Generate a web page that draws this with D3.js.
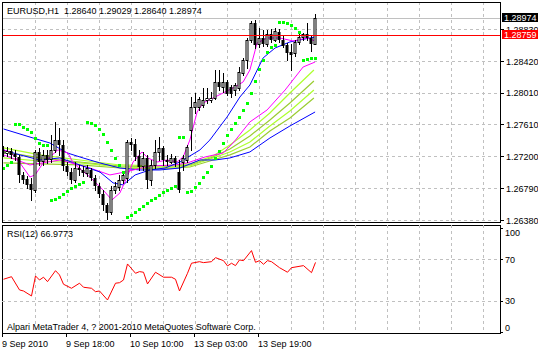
<!DOCTYPE html>
<html><head><meta charset="utf-8">
<script src="https://cdn.jsdelivr.net/npm/d3@7"></script>
<style>
body{margin:0;background:#fff;}
svg{display:block;}
text{font-family:"Liberation Sans",Arial,sans-serif;font-size:9px;fill:#000;}
</style>
</head><body><svg id="c" width="538" height="351"></svg>
<script>
// ---------- data ----------
const symbol = "EURUSD,H1";
const lastOHLC = [1.28640, 1.29029, 1.28640, 1.28974];
const opens  = [1.27279,1.27241,1.27266,1.27228,1.27189,1.26958,1.26907,1.26843,1.26765,1.27253,1.27137,1.27215,1.27163,1.27279,1.27407,1.27343,1.27073,1.26996,1.26894,1.27047,1.27022,1.26984,1.27022,1.26920,1.26817,1.26714,1.26573,1.26483,1.26765,1.26804,1.26894,1.26920,1.27381,1.27356,1.27202,1.27073,1.27176,1.26894,1.27086,1.27253,1.27305,1.27150,1.27124,1.27176,1.26996,1.27124,1.27150,1.27535,1.27830,1.27830,1.27856,1.27920,1.27920,1.27946,1.28151,1.28087,1.28151,1.28087,1.28048,1.28074,1.28266,1.28433,1.28690,1.28908,1.28638,1.28715,1.28638,1.28767,1.28690,1.28792,1.28690,1.28626,1.28536,1.28523,1.28664,1.28728,1.28767,1.28715,1.28640];
const highs  = [1.27330,1.27317,1.27305,1.27279,1.27215,1.26996,1.26945,1.26920,1.27279,1.27305,1.27279,1.27279,1.27471,1.27637,1.27561,1.27407,1.27124,1.27047,1.27124,1.27086,1.27073,1.27086,1.27047,1.26958,1.26856,1.26765,1.26599,1.26817,1.26868,1.26958,1.26984,1.27407,1.27432,1.27420,1.27279,1.27253,1.27215,1.27150,1.27407,1.27445,1.27330,1.27215,1.27228,1.27202,1.27150,1.27215,1.27343,1.27958,1.28010,1.27958,1.28074,1.28074,1.28022,1.28305,1.28305,1.28266,1.28177,1.28112,1.28138,1.28343,1.28459,1.28715,1.28934,1.28946,1.28843,1.28818,1.28818,1.28831,1.28843,1.28831,1.28741,1.28651,1.28638,1.28690,1.28767,1.28780,1.28908,1.28754,1.29029];
const lows   = [1.27202,1.27202,1.27176,1.27150,1.26868,1.26856,1.26791,1.26637,1.26740,1.27086,1.27086,1.27112,1.27124,1.27253,1.27215,1.27022,1.26958,1.26856,1.26868,1.26958,1.26945,1.26945,1.26894,1.26765,1.26676,1.26509,1.26393,1.26457,1.26727,1.26765,1.26856,1.26868,1.27279,1.27150,1.27022,1.27022,1.26791,1.26830,1.27047,1.27150,1.27086,1.27086,1.27112,1.27073,1.26740,1.27022,1.27124,1.27279,1.27754,1.27792,1.27830,1.27882,1.27894,1.27933,1.28048,1.28022,1.27984,1.27958,1.27984,1.28048,1.28241,1.28330,1.28664,1.28587,1.28600,1.28613,1.28613,1.28664,1.28677,1.28664,1.28600,1.28433,1.28305,1.28484,1.28638,1.28690,1.28690,1.28548,1.28640];
const closes = [1.27228,1.27266,1.27215,1.27189,1.26958,1.26894,1.26830,1.26765,1.27253,1.27124,1.27215,1.27150,1.27279,1.27407,1.27343,1.27073,1.26996,1.26894,1.27047,1.27022,1.26984,1.27047,1.26920,1.26817,1.26714,1.26573,1.26470,1.26765,1.26817,1.26894,1.26958,1.27381,1.27343,1.27189,1.27060,1.27176,1.26894,1.27086,1.27253,1.27305,1.27150,1.27124,1.27176,1.27112,1.26765,1.27176,1.27317,1.27830,1.27894,1.27933,1.27920,1.27946,1.27946,1.28151,1.28087,1.28151,1.27997,1.27997,1.28112,1.28279,1.28433,1.28690,1.28908,1.28626,1.28715,1.28638,1.28767,1.28690,1.28805,1.28690,1.28613,1.28523,1.28497,1.28664,1.28728,1.28767,1.28715,1.28638,1.28974];
const sar = [1.27047,1.27086,1.27124,1.27612,1.27612,1.27573,1.27548,1.27509,1.27432,1.27368,1.27343,1.27343,1.26637,1.26650,1.26676,1.26714,1.26753,1.26791,1.26817,1.26843,1.26868,1.27637,1.27625,1.27599,1.27548,1.27484,1.27381,1.27279,1.27176,1.27086,1.26996,1.26419,1.26444,1.26483,1.26522,1.26560,1.26599,1.26637,1.26663,1.26701,1.26740,1.26765,1.26791,1.26817,1.27445,1.27445,1.26740,1.26753,1.26804,1.26856,1.26932,1.26996,1.27073,1.27176,1.27266,1.27368,1.27471,1.27548,1.27625,1.27702,1.27792,1.27882,1.28010,1.28164,1.28318,1.28433,1.28536,1.28600,1.28625,1.28921,1.28921,1.28908,1.28882,1.28843,1.28792,1.28433,1.28446,1.28459,1.28459];
// moving averages read as [bar, price]
const maMagentaFast = [[0,1.27279],[1.6,1.27253],[3.6,1.27150],[6.6,1.26932],[7.9,1.26958],[9.9,1.27112],[13.6,1.27279],[16.1,1.27241],[17.4,1.27112],[21.6,1.26932],[24.9,1.26765],[27.1,1.26637],[29.1,1.26727],[30.9,1.26932],[32.4,1.27124],[34.6,1.27253],[36.1,1.27176],[38.4,1.27124],[40.9,1.27150],[43.4,1.27124],[44.9,1.27189],[46.6,1.27407],[48.4,1.27766],[49.9,1.27882],[52.4,1.27946],[54.9,1.28010],[57.4,1.28074],[59.9,1.28151],[61.6,1.28305],[63.4,1.28651],[65.9,1.28715],[69.1,1.28715],[72.4,1.28677],[75.9,1.28715],[77.9,1.28677]];
const maMagentaSlow = [[0,1.27215],[6.6,1.27086],[14.1,1.27150],[21.6,1.27047],[26.6,1.26958],[30.4,1.26996],[36.6,1.27073],[42.9,1.27086],[45.9,1.27112],[50.4,1.27189],[54.9,1.27240],[57.4,1.27368],[61.6,1.27638],[65.9,1.27792],[70.4,1.28048],[74.9,1.28343],[77.9,1.28407]];
const maBlueFast = [[0,1.27279],[4.1,1.27215],[9.1,1.27150],[14.1,1.27176],[19.1,1.27086],[24.1,1.26996],[27.4,1.26856],[29.9,1.26830],[32.9,1.26958],[36.6,1.27022],[40.4,1.27047],[44.1,1.27124],[49.1,1.27279],[51.6,1.27407],[55.9,1.27702],[59.1,1.27958],[61.6,1.28112],[64.9,1.28459],[67.9,1.28587],[71.6,1.28664],[74.1,1.28690],[77.9,1.28728]];
const maBlueSlow = [[0,1.27548],[7.4,1.27432],[11.6,1.27368],[15.9,1.27241],[19.9,1.27176],[24.1,1.27112],[29.1,1.27047],[34.1,1.27022],[39.1,1.27022],[44.1,1.27047],[49.1,1.27150],[52.9,1.27150],[56.6,1.27176],[61.6,1.27253],[66.6,1.27432],[71.6,1.27586],[77.9,1.27766]];
const greenBars = [0,9.1,19.1,29.1,39.1,46.6,52.4,56.6,61.6,66.6,71.6,77.6];
const maGreen1 = [1.27305,1.27215,1.27150,1.27086,1.27073,1.27099,1.27202,1.27343,1.27535,1.27753,1.28010,1.28305];
const maGreen2 = [1.27253,1.27176,1.27124,1.27073,1.27060,1.27086,1.27189,1.27292,1.27458,1.27663,1.27882,1.28164];
const maGreen3 = [1.27176,1.27137,1.27112,1.27060,1.27047,1.27073,1.27176,1.27253,1.27381,1.27586,1.27779,1.28048];
const maGreen4 = [1.27112,1.27099,1.27086,1.27047,1.27035,1.27060,1.27150,1.27215,1.27317,1.27522,1.27689,1.27946];
const rsiPts = [[0,50.7],[2,53.2],[4,40.4],[5,39.4],[7,34.6],[8,53.9],[9,50],[10,52.7],[11,48.4],[13,59],[14,54.9],[15,45.9],[17,42],[19,46.9],[20,43],[22,42],[23,38.7],[24,39.4],[26,30.7],[28,46.9],[29,47.4],[30,50],[31,65.5],[33,56.5],[34,58.1],[35,57.5],[36,46.2],[38,57.5],[40,52.7],[42,52.7],[43,50.7],[44,39.4],[46,56.5],[47,66.2],[49,67.7],[50,66.8],[52,67.7],[53,71.6],[55,68.7],[56,63.6],[57,66.2],[58,63.9],[59,69.4],[60,68.7],[62,78.4],[63,67.1],[64,68.7],[65,65.2],[66,68.7],[67,67.7],[69,61.9],[71,57.5],[72,61.9],[75,63.9],[77,57.1],[78,66.98]];
const rsiLabel = "RSI(12) 66.9773";
const copyright = "Alpari MetaTrader 4, ? 2001-2010 MetaQuotes Software Corp.";
const priceTicks = [1.28830, 1.28420, 1.28010, 1.27610, 1.27200, 1.26790, 1.26380];
const rsiTicks = [100, 70, 30, 0];
const rsiGrid = [70, 30];
const timeLabels = ["9 Sep 2010","9 Sep 18:00","10 Sep 10:00","13 Sep 03:00","13 Sep 19:00"];
const timeLabelBars = [0,16,32,48,64];
const gridBars = d3.range(8, 121, 8);
const bidPrice = 1.28974;
const levelPrice = 1.28759;

// ---------- layout ----------
const L = 2, R = 500, mainTop = 2, mainBot = 222, rsiTop = 225, rsiBot = 333;
const svg = d3.select("#c");
const x = d3.scaleLinear().domain([0, 1]).range([3.5, 7.5]);
const y = d3.scaleLinear().domain([1.26380, 1.28420]).range([220, 61]);
const yr = d3.scaleLinear().domain([0, 100]).range([331.75, 228.25]);

svg.append("rect").attr("width",538).attr("height",351).attr("fill","#fff");
const defs = svg.append("defs");
defs.append("clipPath").attr("id","cm").append("rect").attr("x",L).attr("y",mainTop).attr("width",R-L).attr("height",mainBot-mainTop);
defs.append("clipPath").attr("id","cr").append("rect").attr("x",L).attr("y",rsiTop).attr("width",R-L).attr("height",rsiBot-rsiTop);

const grid = "#c0c0c0";
const main = svg.append("g").attr("clip-path","url(#cm)");
main.selectAll(".hg").data(priceTicks).join("line")
  .attr("x1",L).attr("x2",R).attr("y1",d=>Math.round(y(d))+0.5).attr("y2",d=>Math.round(y(d))+0.5)
  .attr("stroke",grid).attr("stroke-dasharray","3,3");
main.selectAll(".vg").data(gridBars).join("line")
  .attr("x1",d=>Math.floor(x(d))+0.5).attr("x2",d=>Math.floor(x(d))+0.5).attr("y1",mainTop).attr("y2",mainBot)
  .attr("stroke",grid).attr("stroke-dasharray","3,3");
main.append("line").attr("x1",L).attr("x2",R).attr("y1",Math.round(y(bidPrice))+0.5).attr("y2",Math.round(y(bidPrice))+0.5).attr("stroke","#c0c0c0");

const lineFn = d3.line().x(d=>x(d[0])).y(d=>y(d[1]));
function drawLine(pts, color, w){
  main.append("path").attr("d", lineFn(pts)).attr("fill","none").attr("stroke",color).attr("stroke-width",w||1);
}
const greens = [[maGreen4,"#9acd32"],[maGreen3,"#adff2f"],[maGreen2,"#9acd32"],[maGreen1,"#adff2f"]];
greens.forEach(g=>drawLine(greenBars.map((b,i)=>[b,g[0][i]]), g[1], 1.2));
drawLine(maBlueSlow, "#0000ff");
drawLine(maMagentaSlow, "#ff00ff");
drawLine(maBlueFast, "#0000ff");
drawLine(maMagentaFast, "#ff00ff");

// candles
const idx = d3.range(opens.length);
const bull = i => closes[i] >= opens[i];
main.selectAll(".wick").data(idx).join("line")
  .attr("x1",i=>Math.floor(x(i))+0.5).attr("x2",i=>Math.floor(x(i))+0.5)
  .attr("y1",i=>Math.round(y(highs[i]))).attr("y2",i=>Math.round(y(lows[i]))+1)
  .attr("stroke","#000");
main.selectAll(".body").data(idx).join("rect")
  .attr("x",i=>Math.floor(x(i))-1.5+(bull(i)?0.5:0))
  .attr("y",i=>Math.round(y(Math.max(opens[i],closes[i])))+(bull(i)?0.5:0))
  .attr("width",i=>bull(i)?2:3)
  .attr("height",i=>Math.max(1, Math.abs(Math.round(y(opens[i]))-Math.round(y(closes[i])))))
  .attr("fill",i=>bull(i)?"#fff":"#000")
  .attr("stroke",i=>bull(i)?"#000":"none");

main.append("line").attr("x1",L).attr("x2",R).attr("y1",Math.round(y(levelPrice))+0.5).attr("y2",Math.round(y(levelPrice))+0.5).attr("stroke","#ff0000");

// SAR
main.selectAll(".sar").data(idx).join("rect")
  .attr("x",i=>Math.floor(x(i))-1).attr("y",i=>Math.round(y(sar[i]))-1)
  .attr("width",3).attr("height",3).attr("fill","#00ff00");

// frames
svg.append("rect").attr("x",L+0.5).attr("y",mainTop+0.5).attr("width",R-L).attr("height",mainBot-mainTop).attr("fill","none").attr("stroke","#000");
svg.append("rect").attr("x",L+0.5).attr("y",rsiTop+0.5).attr("width",R-L).attr("height",rsiBot-rsiTop).attr("fill","none").attr("stroke","#000");

svg.append("text").attr("x",7).attr("y",14).attr("xml:space","preserve").style("white-space","pre")
  .text(symbol + "  " + lastOHLC.map(d=>d.toFixed(5)).join(" "));

// price axis
const tagTop = Math.round(y(bidPrice))+4, tagBot = Math.round(y(levelPrice))-5;
defs.append("clipPath").attr("id","cl").append("rect").attr("x",R).attr("y",tagTop).attr("width",40).attr("height",tagBot-tagTop);
const pa = svg.append("g");
pa.selectAll("line").data(priceTicks).join("line")
  .attr("x1",R).attr("x2",R+4).attr("y1",d=>Math.round(y(d))+0.5).attr("y2",d=>Math.round(y(d))+0.5).attr("stroke","#000");
pa.selectAll("text").data(priceTicks).join("text")
  .attr("x",R+6).attr("y",d=>y(d)+3.5)
  .attr("clip-path",d=> (y(d) < tagBot+5 && y(d) > tagTop-4) ? "url(#cl)" : null)
  .text(d=>d.toFixed(5));
function tag(price, bg){
  const yy = Math.round(y(price));
  svg.append("rect").attr("x",R+2).attr("y",yy-5).attr("width",40).attr("height",9).attr("fill",bg);
  svg.append("text").attr("x",R+4).attr("y",yy+3).style("fill","#fff").text(price.toFixed(5));
}
tag(bidPrice, "#000");
tag(levelPrice, "#ff0000");

// RSI panel
const rp = svg.append("g").attr("clip-path","url(#cr)");
rp.selectAll(".hg").data(rsiGrid).join("line")
  .attr("x1",L).attr("x2",R).attr("y1",d=>Math.round(yr(d))+0.5).attr("y2",d=>Math.round(yr(d))+0.5)
  .attr("stroke",grid).attr("stroke-dasharray","3,3");
rp.selectAll(".vg").data(gridBars).join("line")
  .attr("x1",d=>Math.floor(x(d))+0.5).attr("x2",d=>Math.floor(x(d))+0.5).attr("y1",rsiTop).attr("y2",rsiBot)
  .attr("stroke",grid).attr("stroke-dasharray","3,3");
rp.append("path").attr("d", d3.line().x(d=>x(d[0])).y(d=>yr(d[1]))(rsiPts))
  .attr("fill","none").attr("stroke","#ff0000");
svg.append("text").attr("x",7).attr("y",237).text(rsiLabel);
svg.append("text").attr("x",7).attr("y",330).text(copyright);
const ra = svg.append("g");
ra.selectAll("line").data(rsiTicks).join("line")
  .attr("x1",R).attr("x2",R+3).attr("y1",d=>Math.round(yr(d))+0.5).attr("y2",d=>Math.round(yr(d))+0.5).attr("stroke","#000");
ra.selectAll("text").data(rsiTicks).join("text")
  .attr("x",R+5).attr("y",d=> d===100 ? yr(d)+8 : d===0 ? yr(d)-1 : yr(d)+3.5).text(d=>d);

// time axis
svg.selectAll(".tt").data(timeLabelBars).join("line")
  .attr("x1",b=>Math.floor(x(b))-0.5).attr("x2",b=>Math.floor(x(b))-0.5).attr("y1",rsiBot).attr("y2",rsiBot+4).attr("stroke","#000");
svg.selectAll(".tl").data(timeLabelBars).join("text")
  .attr("x",b=>Math.floor(x(b))-1).attr("y",347).text((b,i)=>timeLabels[i]);
</script></body></html>
